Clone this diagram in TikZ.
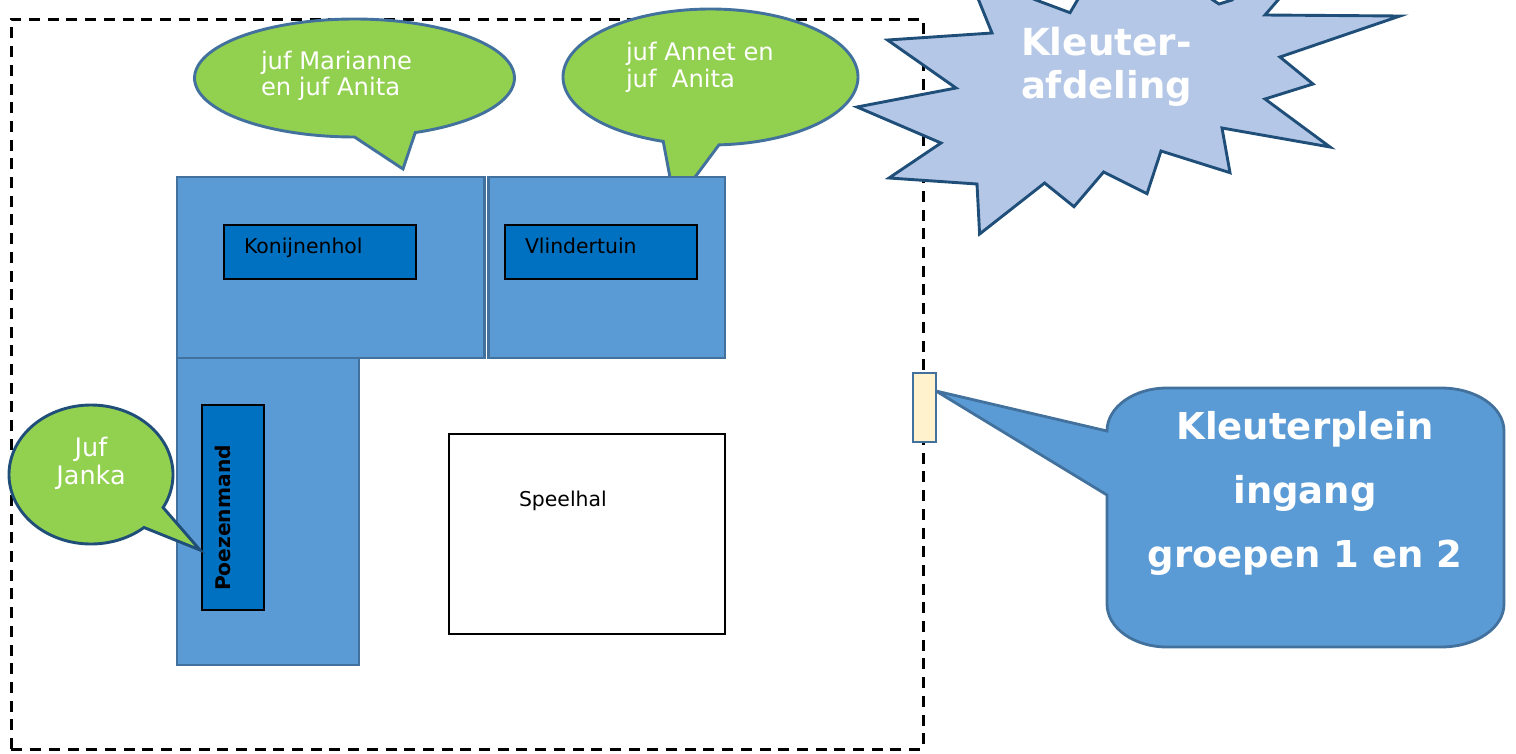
\documentclass[tikz,border=0pt]{standalone}
\usepackage{fontspec}
\setmainfont{DejaVu Sans}
\definecolor{roomblue}{HTML}{5B9BD5}
\definecolor{roomline}{HTML}{41719C}
\definecolor{innerblue}{HTML}{0070C0}
\definecolor{bubblegreen}{HTML}{92D050}
\definecolor{burstfill}{HTML}{B4C7E7}
\definecolor{darkline}{HTML}{1F4E79}
\definecolor{doorfill}{HTML}{FFF2CC}
\tikzset{
  room/.style={draw=roomline,line width=2.6pt,fill=roomblue},
  inner/.style={draw=black,line width=1.5pt,fill=innerblue},
  bubble/.style={draw=roomline,line width=2.9pt,fill=bubblegreen,line join=miter},
  lbl/.style={anchor=base west,inner sep=0pt,outer sep=0pt,text=black,font=\fontsize{20.4}{20.4}\selectfont},
  wlbl/.style={anchor=base west,inner sep=0pt,outer sep=0pt,text=white,font=\fontsize{24.2}{24.2}\selectfont},
  big/.style={anchor=base,inner sep=0pt,outer sep=0pt,text=white,font=\fontsize{37}{37}\selectfont\bfseries},
}
\begin{document}
\begin{tikzpicture}[x=1pt,y=-1pt]
\useasboundingbox (0,0) rectangle (1516,753);
\clip (0,0) rectangle (1516,753);
% outer dashed boundary
\draw[black,line width=3pt,dash pattern=on 11pt off 7.7pt] (11,749) -- (11,19) -- (923,19) -- (923,749) -- cycle;
% Annet bubble lies under the room
\draw[bubble] (675,204) -- plot[domain=86.7:-251.3,samples=90,smooth] ({710.5+147.5*cos(\x)},{77+68*sin(\x)}) -- cycle;
\draw[bubble] (403,169) -- plot[domain=67.7:-270,samples=90,smooth] ({354.5+160*cos(\x)},{78+59*sin(\x)}) -- cycle;
% rooms
\draw[room] (177,177) rectangle (484.3,358);
\draw[room] (488.3,177) rectangle (725,358);
\draw[room] (177,358) rectangle (359,665);
\draw[inner] (224,225) rectangle (416,279);
\draw[inner] (505,225) rectangle (697,279);
\draw[inner] (202,405) rectangle (264,610);
\draw[black,line width=1.5pt,fill=white] (449,434) rectangle (725,634);
% Janka bubble on top
\draw[bubble,draw=darkline] (200,550) -- plot[domain=49.7:388.4,samples=90,smooth] ({91+82*cos(\x)},{474.5+69.5*sin(\x)}) -- cycle;
% burst
\draw[draw=darkline,line width=2.9pt,fill=burstfill,line join=miter]
 (887.5,40) -- (992,33) -- (978.6,0) -- (972,-15) -- (1000,-15) -- (1036,0) -- (1070,12.7) -- (1077.5,0) -- (1082,-15) -- (1190,-15) -- (1219,4) -- (1232,0) -- (1250,-15) -- (1291,-15) -- (1278,0) -- (1265,15) -- (1400,16)
 -- (1280,57) -- (1313,84) -- (1265,99) -- (1330,147) -- (1222,128) -- (1230,172.7) -- (1161,151)
 -- (1147,193.7) -- (1103.6,172) -- (1074,206.7) -- (1044.6,183) -- (979.6,234) -- (977,184)
 -- (889,178) -- (941,143) -- (857,107) -- (956,88) -- cycle;
% door and entrance callout
\draw[roomline,line width=2.8pt,fill=roomblue,line join=miter]
 (936,391) -- (1107,431) .. controls (1107,407) and (1134,388) .. (1167,388) -- (1441,388)
 .. controls (1476,388) and (1504,407) .. (1504,431) -- (1504,604)
 .. controls (1504,628) and (1476,647) .. (1441,647) -- (1167,647)
 .. controls (1134,647) and (1107,628) .. (1107,604) -- (1107,495) -- cycle;
\draw[roomline,line width=2.8pt,fill=doorfill] (913,373) rectangle (936,442);
% labels
\node[lbl] (konijnenhol) at (244,253) {Konijnenhol};
\node[lbl] (vlindertuin) at (525,253) {Vlindertuin};
\node[lbl] (speelhal) at (519,506) {Speelhal};
\node[anchor=center,inner sep=0pt,rotate=90,text=black,font=\fontsize{20.2}{20.2}\selectfont\bfseries] (poezenmand) at (223,518) {Poezenmand};
\node[wlbl] (t1) at (261,69) {juf Marianne};
\node[wlbl] (t2) at (261,95) {en juf Anita};
\node[wlbl] (t3) at (626,60) {juf Annet en};
\node[wlbl] (t4) at (626,87) {juf\ \ Anita};
\node[wlbl,anchor=base,font=\fontsize{25.5}{25.5}\selectfont] (t5) at (91,456) {Juf};
\node[wlbl,anchor=base,font=\fontsize{25.5}{25.5}\selectfont] (t6) at (91,484) {Janka};
\node[big,anchor=base west,font=\fontsize{37.3}{37.3}\selectfont\bfseries] (k1) at (1021,55) {Kleuter-};
\node[big,anchor=base west,font=\fontsize{37}{37}\selectfont\bfseries] (k2) at (1021,98) {afdeling};
\node[big] (p1) at (1305,439) {Kleuterplein};
\node[big] (p2) at (1305,503) {ingang};
\node[big] (p3) at (1305,567) {groepen 1 en 2};
\end{tikzpicture}
\end{document}
